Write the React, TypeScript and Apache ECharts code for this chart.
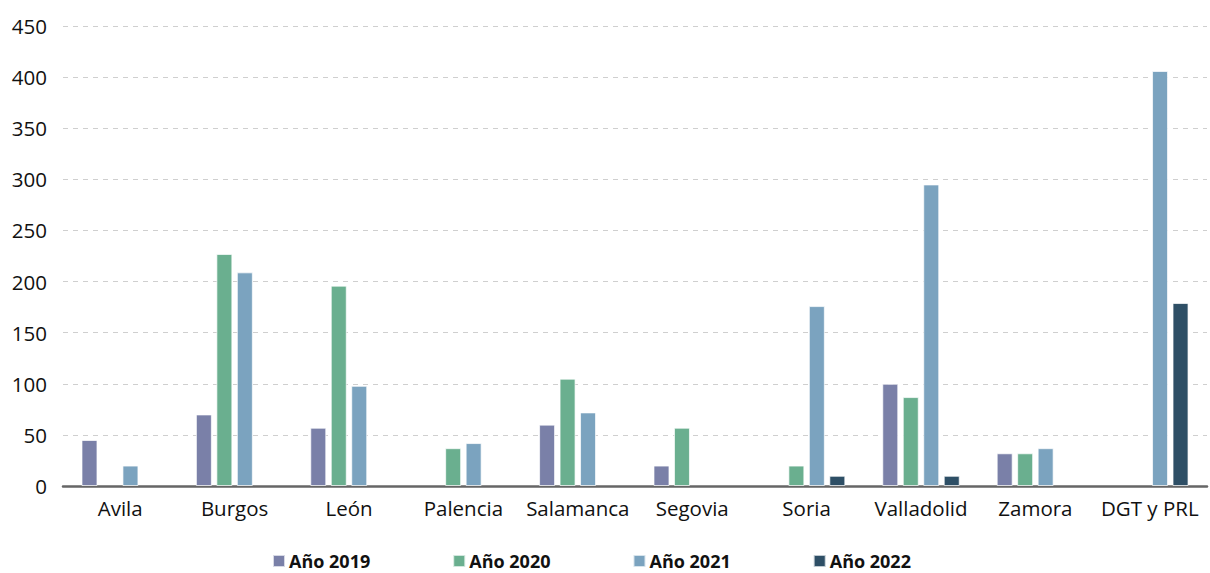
import React, { useEffect, useRef } from "react";
import * as echarts from "echarts";

const categories = ["Avila", "Burgos", "León", "Palencia", "Salamanca", "Segovia", "Soria", "Valladolid", "Zamora", "DGT y PRL"];
const seriesNames = ["Año 2019", "Año 2020", "Año 2021", "Año 2022"];
const values2019 = [45, 70, 57, null, 60, 20, null, 100, 32, null];
const values2020 = [null, 227, 196, 37, 105, 57, 20, 87, 32, null];
const values2021 = [20, 209, 98, 42, 72, null, 176, 295, 37, 406];
const values2022 = [null, null, null, null, null, null, 10, 10, null, 179];
const colors = ["#7a80a8", "#6aaf8f", "#7ba3bf", "#2e4f66"];
const yTicks = { min: 0, max: 450, interval: 50 };

export default function App() {
  const ref = useRef<HTMLDivElement>(null);
  useEffect(() => {
    const chart = echarts.init(ref.current!, null, { renderer: "svg" });
    const font = "'Open Sans', 'Noto Sans', sans-serif";
    const data = [values2019, values2020, values2021, values2022];
    chart.setOption({
      animation: false,
      color: colors,
      grid: { left: 63, right: 3, top: 26, bottom: 87 },
      legend: {
        top: 552,
        left: 272,
        padding: 0,
        itemWidth: 12,
        itemHeight: 12,
        itemGap: 82,
        icon: "rect",
        textStyle: { fontFamily: font, fontWeight: "bold", fontSize: 18, lineHeight: 18, color: "#111", padding: [0, 0, 0, -1] },
        data: seriesNames,
      },
      xAxis: {
        type: "category",
        data: categories,
        axisLine: { lineStyle: { color: "#666", width: 2.5 } },
        axisTick: { show: false },
        axisLabel: { fontFamily: font, fontSize: 20.5, color: "#111", margin: 11, interval: 0 },
      },
      yAxis: {
        type: "value",
        min: yTicks.min,
        max: yTicks.max,
        interval: yTicks.interval,
        axisLine: { show: false },
        axisTick: { show: false },
        axisLabel: { fontFamily: font, fontSize: 20.5, color: "#111", margin: 16 },
        splitLine: { lineStyle: { color: "#cfcfcf", type: [5, 5], width: 1 } },
      },
      series: seriesNames.map((name, i) => ({
        name,
        type: "bar",
        data: data[i],
        barWidth: 16,
        barGap: "28%",
        itemStyle: { color: colors[i], borderColor: "rgba(255,255,255,0.7)", borderWidth: 1 },
      })),
    });
    return () => chart.dispose();
  }, []);
  return <div ref={ref} style={{ width: 1210, height: 573, position: "absolute", left: 0, top: 0 }} />;
}
